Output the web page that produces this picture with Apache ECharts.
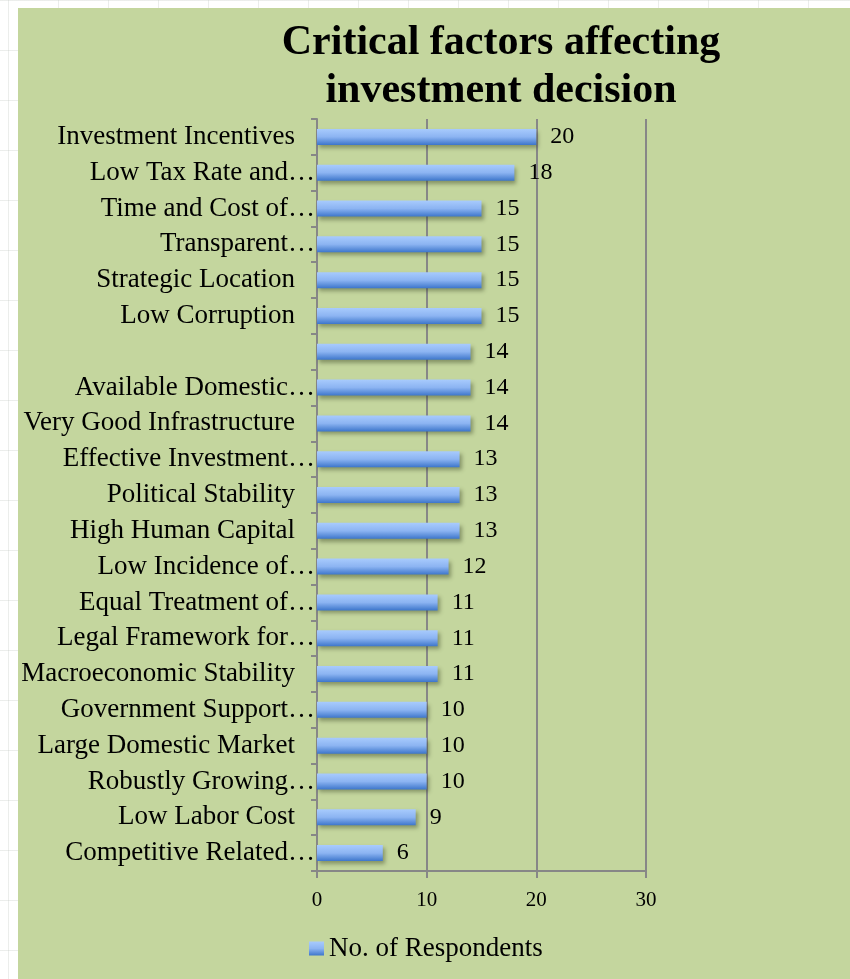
<!DOCTYPE html>
<html>
<head>
<meta charset="utf-8">
<script src="https://cdn.jsdelivr.net/npm/echarts@6/dist/echarts.min.js"></script>
<style>
  html, body { margin: 0; padding: 0; width: 850px; height: 979px; overflow: hidden; }
  body {
    background-color: #ffffff;
    background-image:
      linear-gradient(to right, rgba(200,205,200,0.35) 1px, transparent 1px),
      linear-gradient(to bottom, rgba(200,205,200,0.35) 1px, transparent 1px);
    background-size: 50px 50px;
    background-position: 8px 0px;
  }
  #panel { position: absolute; left: 18px; top: 8px; width: 832px; height: 971px; background: #c4d69e; }
  #chart { width: 832px; height: 971px; }
</style>
</head>
<body>
<div id="panel"><div id="chart"></div></div>
<script>
const titleText = 'Critical factors affecting\ninvestment decision';
const seriesName = 'No. of Respondents';
const categories = [
  'Investment Incentives',
  'Low Tax Rate and…',
  'Time and Cost of…',
  'Transparent…',
  'Strategic Location',
  'Low Corruption',
  '',
  'Available Domestic…',
  'Very Good Infrastructure',
  'Effective Investment…',
  'Political Stability',
  'High Human Capital',
  'Low Incidence of…',
  'Equal Treatment of…',
  'Legal Framework for…',
  'Macroeconomic Stability',
  'Government Support…',
  'Large Domestic Market',
  'Robustly Growing…',
  'Low Labor Cost',
  'Competitive Related…'
];
const values = [20, 18, 15, 15, 15, 15, 14, 14, 14, 13, 13, 13, 12, 11, 11, 11, 10, 10, 10, 9, 6];
const xTicks = [0, 10, 20, 30];

const chart = echarts.init(document.getElementById('chart'), null, { renderer: 'canvas' });
const barGradient = new echarts.graphic.LinearGradient(0, 0, 0, 1, [
  { offset: 0, color: '#a8cbfd' },
  { offset: 0.5, color: '#8cb4f2' },
  { offset: 1, color: '#3d76cb' }
]);
const serif = '"Liberation Serif", "Times New Roman", serif';

chart.setOption({
  backgroundColor: 'transparent',
  animation: false,
  title: {
    text: titleText,
    left: 478,
    textAlign: 'center',
    top: 6,
    textStyle: { fontFamily: serif, fontSize: 42, fontWeight: 'bold', color: '#000', lineHeight: 48 }
  },
  legend: {
    data: [seriesName],
    left: 286,
    top: 922,
    itemWidth: 15,
    itemHeight: 14,
    itemGap: 6,
    icon: 'rect',
    textStyle: { fontFamily: serif, fontSize: 27, color: '#000' }
  },
  grid: { left: 299, right: 204, top: 111, bottom: 108, containLabel: false },
  xAxis: {
    type: 'value',
    min: xTicks[0],
    max: xTicks[xTicks.length - 1],
    interval: 10,
    axisLine: { show: true, lineStyle: { color: '#878787', width: 2 } },
    axisTick: { show: true, length: 7, lineStyle: { color: '#878787', width: 2 } },
    splitLine: { show: true, lineStyle: { color: '#878787', width: 2 } },
    axisLabel: { fontFamily: serif, fontSize: 21, color: '#000', margin: 19 }
  },
  yAxis: {
    type: 'category',
    data: categories,
    inverse: true,
    axisLine: { show: true, lineStyle: { color: '#878787', width: 2 } },
    axisTick: { show: true, length: 6, alignWithLabel: false, lineStyle: { color: '#878787', width: 2 } },
    axisLabel: {
      fontFamily: serif,
      fontSize: 27,
      color: '#000',
      margin: 2,
      formatter: function (v) {
        if (v === '') return '';
        return v.endsWith('…') ? '{t|' + v + '}' : '{n|' + v + '}';
      },
      rich: {
        t: { fontFamily: serif, fontSize: 27, color: '#000' },
        n: { fontFamily: serif, fontSize: 27, color: '#000', padding: [0, 20, 0, 0] }
      }
    }
  },
  series: [{
    name: seriesName,
    type: 'bar',
    data: values,
    barWidth: 16,
    itemStyle: {
      color: barGradient,
      shadowColor: 'rgba(40,50,20,0.4)',
      shadowBlur: 4,
      shadowOffsetX: 2,
      shadowOffsetY: 3
    },
    label: {
      show: true,
      position: 'right',
      distance: 14,
      fontFamily: serif,
      fontSize: 24,
      color: '#000'
    }
  }]
});
</script>
</body>
</html>
